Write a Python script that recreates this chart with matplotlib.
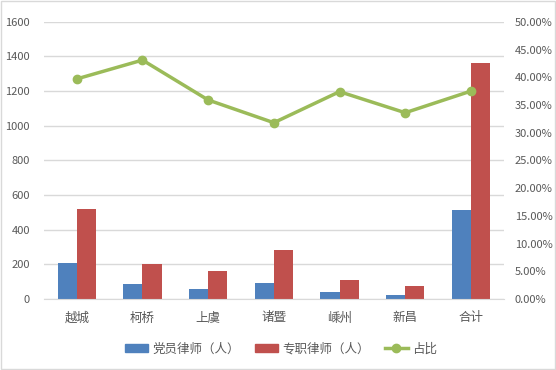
import numpy as np
import matplotlib
matplotlib.use('Agg')
import matplotlib.pyplot as plt
from matplotlib.patches import Rectangle
from matplotlib.lines import Line2D
from matplotlib.ticker import FuncFormatter

plt.rcParams['font.family'] = ['Noto Sans CJK SC', 'DejaVu Sans']

# data
regions = ['越城', '柯桥', '上虞', '诸暨', '嵊州', '新昌', '合计']
party_lawyers = [206, 88, 59, 90, 42, 25, 514]
fulltime_lawyers = [518, 203, 164, 283, 112, 74, 1364]
ratio = [0.397, 0.431, 0.359, 0.318, 0.374, 0.336, 0.375]

blue = '#4F81BD'
red = '#C0504D'
green = '#9BBB59'
grid = '#D9D9D9'
txt = '#595959'

fig = plt.figure(figsize=(5.56, 3.70), dpi=100)
ax = fig.add_axes([0.079, 0.192, 0.827, 0.749])
ax2 = ax.twinx()

x = np.arange(len(regions))
w = 0.29
ax.bar(x - w / 2, party_lawyers, w, color=blue, zorder=2)
ax.bar(x + w / 2, fulltime_lawyers, w, color=red, zorder=2)

ax.set_ylim(0, 1600)
ax.set_yticks(np.arange(0, 1601, 200))
ax.set_xlim(-0.5, len(regions) - 0.5)
ax.set_xticks(x)
ax.set_xticklabels(regions, fontsize=9, color=txt)
ax.yaxis.grid(True, color=grid, linewidth=1, zorder=0)
ax.set_axisbelow(True)
ax.tick_params(axis='y', length=0, labelsize=8, labelcolor=txt, pad=10)
ax.tick_params(axis='x', length=0, pad=9)
for s in ['top', 'right', 'left']:
    ax.spines[s].set_visible(False)
ax.spines['bottom'].set_color(grid)

ax2.plot(x, ratio, color=green, linewidth=2.5, marker='o', markersize=6, zorder=3)
ax2.set_ylim(0, 0.5)
ax2.set_yticks(np.arange(0, 0.501, 0.05))
ax2.yaxis.set_major_formatter(FuncFormatter(lambda v, p: '%.2f%%' % (v * 100)))
ax2.tick_params(axis='y', length=0, labelsize=8, labelcolor=txt, pad=8)
for s in ax2.spines.values():
    s.set_visible(False)

# legend below the plot
handles = [Rectangle((0, 0), 1, 1, color=blue),
           Rectangle((0, 0), 1, 1, color=red),
           Line2D([], [], color=green, linewidth=2.5, marker='o', markersize=6)]
fig.legend(handles, ['党员律师（人）', '专职律师（人）', '占比'],
           loc='center', bbox_to_anchor=(0.505, 0.057), ncol=3, frameon=False,
           fontsize=9, labelcolor=txt, handlelength=1.9, handleheight=0.6,
           columnspacing=1.2, handletextpad=0.3)

fig.patches.append(Rectangle((0.001, 0.002), 0.997, 0.996, transform=fig.transFigure,
                             fill=False, edgecolor=grid, linewidth=1))

fig.savefig('out.png', dpi=100)
